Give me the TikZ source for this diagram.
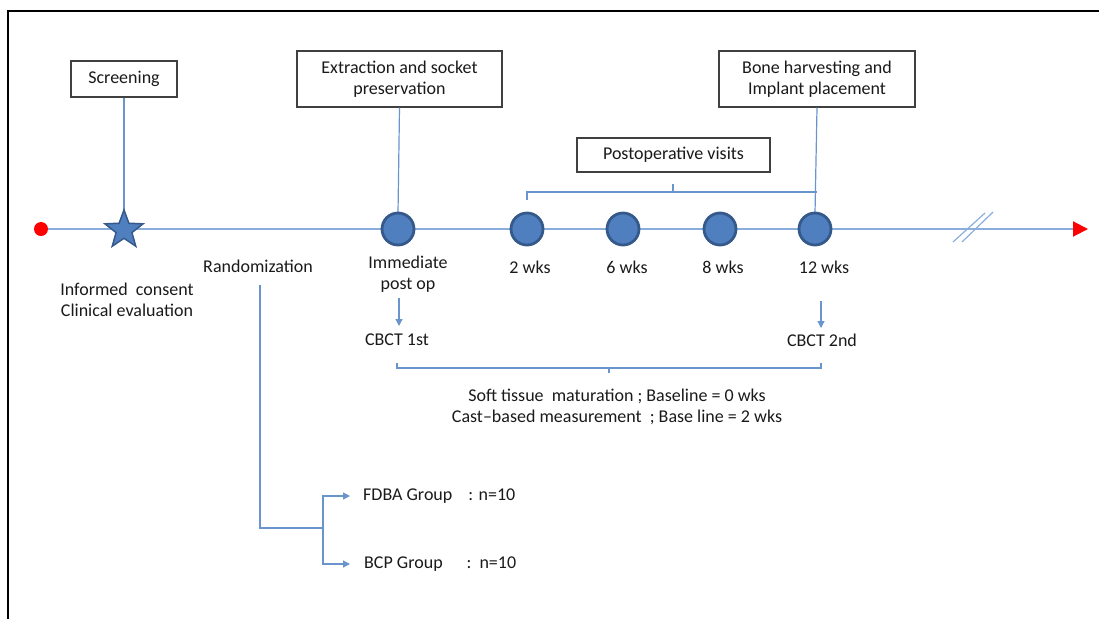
\documentclass[tikz,border=0pt]{standalone}
\usepackage{fontspec}
\setmainfont{Carlito}
\usetikzlibrary{shapes.geometric,arrows.meta}
\definecolor{tlblue}{HTML}{8AAEDC}
\definecolor{cblue}{HTML}{6A94CC}
\definecolor{fillblue}{HTML}{4F7FBE}
\definecolor{cdark}{HTML}{35598A}
\definecolor{txt}{HTML}{1A1A1A}
\begin{document}
\begin{tikzpicture}[x=1pt,y=-1pt, font=\fontsize{18}{20.5}\selectfont, text=txt,
  box/.style={draw=black!75, line width=1.1pt, fill=white, inner sep=0pt, align=center},
  lbl/.style={inner sep=0pt, align=center},
  tl/.style={draw=tlblue, line width=2pt},
  conn/.style={draw=cblue, line width=1.2pt},
  visit/.style={circle, fill=fillblue, draw=cdark, line width=2.8pt, minimum size=32pt, inner sep=0pt},
  arr/.style={conn, -{Triangle[length=7pt,width=7pt]}}]
\useasboundingbox (0,0) rectangle (1099,619);
\draw[line width=2pt] (8,619) -- (8,11) -- (1099,11);

% timeline
\coordinate (tstart) at (41,229);
\coordinate (tend) at (1088,229);
\draw[tl, -{Triangle[length=15pt,width=15pt,red]}] (tstart) -- (tend);
\draw[tl, line width=1.2pt] (953,242) -- (985,213);
\draw[tl, line width=1.2pt] (962,242) -- (993,212);

% boxes
\node[box, minimum width=106pt, minimum height=36pt] (screen) at (124,79) {Screening};
\node[box, minimum width=205pt, minimum height=56pt] (ext) at (399.5,79) {Extraction and socket\\preservation};
\node[box, minimum width=196pt, minimum height=56pt] (bone) at (817,79) {Bone harvesting and\\Implant placement};
\node[box, minimum width=193pt, minimum height=34pt] (postop) at (673.5,155) {Postoperative visits};

% timeline marks
\node[circle, fill=red, minimum size=14pt, inner sep=0pt] (dot) at (tstart) {};
\draw[conn] (screen.south) -- (124,215);
\draw[conn] (ext.south) -- (398,213);
\draw[conn] (bone.south) -- (815,213);
\node[star, star points=5, star point ratio=2.4, minimum size=40pt, inner sep=0pt, fill=fillblue, draw=cdark, line width=1.5pt] (star) at (124,230) {};
\node[visit] (v0) at (398,229) {};
\node[visit] (v2) at (527,229) {};
\node[visit] (v6) at (623,229) {};
\node[visit] (v8) at (720,229) {};
\node[visit] (v12) at (815,229) {};

% bracket for postoperative visits
\coordinate (bl) at (527,200);
\coordinate (br) at (817,192);
\coordinate (pm) at (673,184);
\draw[conn] (bl) -- (bl |- br) -- (br);
\draw[conn] (pm) -- (pm |- br);

% labels
\node[lbl] (rand) at (258,266) {Randomization};
\node[lbl] (ic) at (127,300) {Informed\ \ consent\\Clinical evaluation};
\node[lbl] (imm) at (408,274) {Immediate\\post op};
\node[lbl] (w2) at (530,267) {2 wks};
\node[lbl] (w6) at (627,267) {6 wks};
\node[lbl] (w8) at (723,267) {8 wks};
\node[lbl] (w12) at (824,267) {12 wks};

% CBCT
\node[lbl] (cb1) at (397,340) {CBCT 1st};
\node[lbl] (cb2) at (822,340) {CBCT 2nd};
\coordinate (a1) at (399,298);
\coordinate (a2) at (821,301);
\draw[arr] (a1) -- (399,326);
\draw[arr] (a2) -- (821,328);

% brace
\coordinate (b1) at (397,363);
\coordinate (b2) at (821,363);
\draw[conn] (b1) -- (397,368) -- (821,368) -- (b2);
\draw[conn] (609,368) -- (609,373);
\node[lbl] (soft) at (617,407) {Soft tissue\ \ maturation ; Baseline = 0 wks\\Cast--based measurement\ \ ; Base line = 2 wks};

% randomization tree
\coordinate (r0) at (260,285);
\coordinate (r1) at (260,528);
\coordinate (fork) at (323,528);
\node[lbl, anchor=west] (fdba) at (363,496) {FDBA Group\hspace{16pt}: n=10};
\node[lbl, anchor=west] (bcp) at (364,564) {BCP Group\hspace{24pt}:\hspace{8pt}n=10};
\draw[conn] (r0) -- (r1) -- (fork);
\draw[arr, shorten >=13pt] (fork) |- (fdba.west);
\draw[arr, shorten >=14pt] (fork) |- (bcp.west);
\end{tikzpicture}
\end{document}
